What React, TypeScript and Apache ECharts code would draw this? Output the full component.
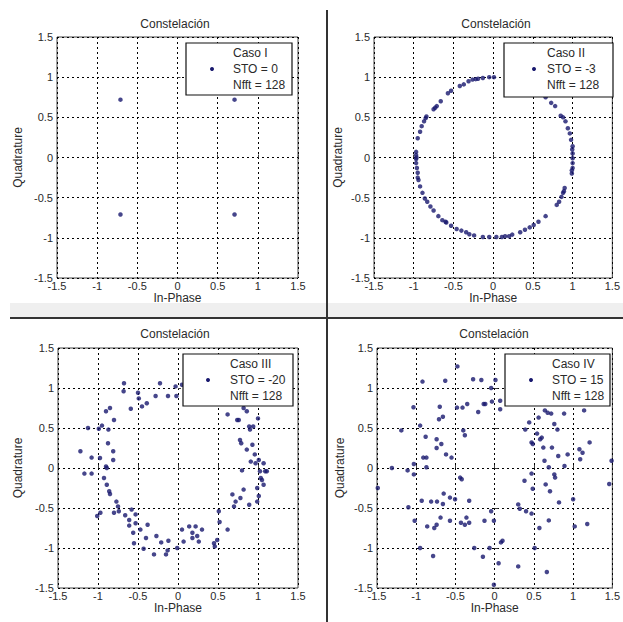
import React, { useEffect, useRef } from "react";
import * as echarts from "echarts";

// ---------- data ----------
const ticks = ["-1.5", "-1", "-0.5", "0", "0.5", "1", "1.5"];
const titleText = "Constelación";
const xName = "In-Phase";
const yName = "Quadrature";

const caseNames = ["Caso I", "Caso II", "Caso III", "Caso IV"];
const stoLabels = ["STO = 0", "STO = -3", "STO = -20", "STO = 15"];
const nfftLabel = "Nfft = 128";

const caseI: number[][] = [
  [-0.71, 0.72], [0.71, 0.72], [-0.71, -0.71], [0.71, -0.71],
];

const caseII: number[][] = [
  [0.01, 1.0], [-0.05, 1.0], [-0.13, 0.99], [-0.19, 0.98], [-0.26, 0.97], [-0.31, 0.95],
  [-0.37, 0.91], [-0.42, 0.89], [-0.53, 0.83], [-0.57, 0.8], [-0.66, 0.7], [-0.71, 0.64],
  [-0.75, 0.6], [-0.84, 0.51], [-0.87, 0.45], [-0.9, 0.39], [-0.92, 0.32], [-0.95, 0.24],
  [-0.97, 0.07], [-0.97, 0.03], [-0.97, -0.02], [-0.97, -0.07], [-0.96, -0.13], [-0.95, -0.19],
  [-0.94, -0.28], [-0.92, -0.36], [-0.89, -0.44], [-0.86, -0.51], [-0.83, -0.55], [-0.79, -0.61],
  [-0.75, -0.66], [-0.69, -0.73], [-0.64, -0.78], [-0.59, -0.81], [-0.53, -0.85], [-0.46, -0.89],
  [-0.4, -0.91], [-0.34, -0.93], [-0.24, -0.97], [-0.13, -0.99], [-0.05, -0.99], [0.04, -0.99],
  [0.11, -0.99], [0.15, -0.98], [0.24, -0.96], [0.34, -0.93], [0.4, -0.9], [0.46, -0.87],
  [0.51, -0.84], [0.57, -0.8], [0.66, -0.73], [0.8, -0.59], [0.83, -0.55], [0.86, -0.49],
  [0.88, -0.44], [0.9, -0.38], [0.99, -0.2], [1.0, -0.13], [1.0, -0.07], [1.0, -0.01],
  [1.0, 0.05], [1.0, 0.14], [0.98, 0.22], [0.965, 0.3], [0.94, 0.365], [0.91, 0.45],
  [0.88, 0.5], [0.85, 0.52], [0.78, 0.64], [0.73, 0.68], [0.66, 0.75], [0.63, 0.78],
  [-0.85, 0.49], [-0.73, 0.62], [-0.22, 0.975], [-0.6, -0.8], [-0.3, -0.955], [0.2, -0.98],
  [0.89, -0.42], [0.99, -0.16], [0.995, 0.1], [-0.965, 0.0], [-0.95, -0.25],
];

const caseIII: number[][] = [
  [-1.22, 0.21], [-1.125, 0.5], [-1.17, -0.07], [-1.08, 0.13], [-1.08, -0.07], [-0.99, 0.49],
  [-0.95, 0.53], [-0.975, 0.125], [-1.01, -0.6], [-0.97, -0.56], [-0.9, 0.71], [-0.85, 0.75],
  [-0.87, 0.48], [-0.875, 0.31], [-0.9, 0.02], [-0.89, 0.0], [-0.925, -0.125], [-0.89, -0.21],
  [-0.86, -0.29], [-0.85, -0.325], [-0.8, 0.6], [-0.81, 0.21], [-0.81, 0.1], [-0.77, -0.42],
  [-0.75, -0.48], [-0.8, -0.56], [-0.74, -0.54], [-0.675, 1.06], [-0.68, 0.96], [-0.66, -0.59],
  [-0.61, -0.65], [-0.61, -0.72], [-0.59, 0.74], [-0.58, -0.52], [-0.56, -0.81], [-0.55, -0.94],
  [-0.53, -0.58], [-0.53, -0.69], [-0.5, 0.94], [-0.49, 0.87], [-0.47, -0.77], [-0.45, 0.77],
  [-0.43, -1.01], [-0.4, -0.875], [-0.38, -0.71], [-0.39, 0.81], [-0.28, 0.9], [-0.27, -0.85],
  [-0.225, 1.06], [-0.21, -0.93], [-0.3, -1.08], [-0.15, -1.08], [-0.13, -1.03], [-0.12, -0.91],
  [-0.125, 0.9], [-0.03, 1.02], [-0.02, 0.9], [-0.01, -1.0], [0.05, 1.04], [0.05, -0.77],
  [0.07, -0.92], [0.14, -0.73], [0.18, -0.81], [0.18, -0.875], [0.22, -0.73], [0.24, -0.85],
  [0.26, -0.92], [0.3, -0.77], [0.45, -0.94], [0.46, -0.98], [0.49, -0.9], [0.51, -0.54],
  [0.52, -0.675], [0.62, 0.67], [0.62, -0.77], [0.68, -0.33], [0.7, -0.48], [0.72, -0.42],
  [0.74, 0.6], [0.76, 0.6], [0.78, -0.375], [0.775, 0.35], [0.79, 0.31], [0.8, -0.03],
  [0.82, 0.75], [0.82, -0.27], [0.86, 0.23], [0.86, 0.71], [0.89, 0.52], [0.89, -0.46],
  [0.9, 0.48], [0.91, 0.08], [0.93, 0.29], [0.94, 0.52], [0.96, 0.17], [0.97, 0.06],
  [0.99, -0.25], [0.99, -0.42], [1.0, 0.62], [1.01, 0.1], [1.01, -0.35], [1.025, -0.04],
  [1.05, -0.15], [1.035, -0.125], [1.07, 0.06], [1.09, -0.04], [1.07, -0.21], [1.11, -0.04],
];

const caseIV: number[][] = [
  [-1.49, -0.25], [-1.31, 0.0], [-1.19, 0.47], [-1.11, -0.03], [-1.1, -0.49], [-1.035, 0.76],
  [-1.03, 0.05], [-1.03, -0.08], [-1.02, -0.66], [-0.95, 0.53], [-0.95, -1.0], [-0.93, -0.41],
  [-0.92, 1.08], [-0.91, 0.13], [-0.88, 0.39], [-0.87, 0.13], [-0.87, 0.01], [-0.86, -0.73],
  [-0.81, -0.42], [-0.785, -1.1], [-0.77, -0.75], [-0.74, -0.71], [-0.74, 0.36], [-0.74, 0.25],
  [-0.735, -0.42], [-0.71, 0.61], [-0.7, 0.765], [-0.69, -0.62], [-0.68, 0.3], [-0.66, -0.45],
  [-0.66, 0.64], [-0.65, -0.32], [-0.63, 1.09], [-0.62, 0.17], [-0.57, -0.37], [-0.57, -0.66],
  [-0.55, 0.13], [-0.505, -0.39], [-0.48, 0.755], [-0.475, 1.27], [-0.44, -0.12], [-0.42, -0.14],
  [-0.43, -0.685], [-0.41, 0.755], [-0.4, 0.47], [-0.38, 0.41], [-0.38, -0.71], [-0.35, 0.8],
  [-0.36, -0.62], [-0.325, -0.41], [-0.325, -0.685], [-0.275, 1.11], [-0.26, -1.0], [-0.21, 0.7],
  [-0.17, 1.1], [-0.15, -1.11], [-0.13, -0.66], [-0.14, 0.8], [-0.12, 0.8], [-0.065, -1.0],
  [-0.045, -0.54], [-0.045, 1.0], [-0.035, 0.83], [-0.01, -0.66], [0.01, 1.1], [-0.01, -1.46],
  [0.05, -1.19], [0.07, 0.84], [0.07, 0.735], [0.08, -0.93], [0.1, -0.91], [0.3, -1.23],
  [0.3, -0.455], [0.32, -0.51], [0.38, -0.16], [0.39, 0.48], [0.4, -0.54], [0.44, 0.57],
  [0.47, -0.07], [0.47, -0.57], [0.485, -0.26], [0.51, -1.0], [0.47, 0.32], [0.485, 0.3],
  [0.54, 0.43], [0.56, 0.63], [0.57, -0.75], [0.58, 0.36], [0.6, 0.38], [0.62, 0.255],
  [0.635, 0.09], [0.64, 0.72], [0.65, -0.205], [0.665, -1.3], [0.675, 0.69], [0.69, -0.655],
  [0.69, 0.01], [0.705, -0.29], [0.72, 0.68], [0.73, 0.255], [0.76, 0.55], [0.76, -0.08],
  [0.77, -0.12], [0.8, 0.48], [0.81, 0.15], [0.82, -0.43], [0.885, 0.68], [0.89, 0.025],
  [0.93, 0.17], [1.0, -0.39], [1.02, -0.73], [1.08, 0.235], [1.09, 0.11], [1.12, 0.19],
  [1.14, 0.72], [1.18, -0.7], [1.21, 0.32], [1.46, -0.2], [1.49, 0.09],
];

const seriesData = [caseI, caseII, caseIII, caseIV];

// ---------- layout ----------
const layouts = [
  { grid: { left: 57, top: 37, width: 241, height: 241 }, tx: 175, ty: 24, yNameX: 18, leg: { x: 186, y: 43, w: 106, h: 52, mx: 212, tx: 233 } },
  { grid: { left: 374, top: 37, width: 242, height: 241 }, tx: 496, ty: 24, yNameX: 338, leg: { x: 504, y: 43, w: 109, h: 54, mx: 534, tx: 547 } },
  { grid: { left: 58, top: 348, width: 240, height: 240 }, tx: 175, ty: 334, yNameX: 18, leg: { x: 183, y: 354, w: 110, h: 52, mx: 208, tx: 230 } },
  { grid: { left: 377, top: 348, width: 239, height: 240 }, tx: 494, ty: 334, yNameX: 340, leg: { x: 505, y: 354, w: 105, h: 52, mx: 531, tx: 552 } },
];

const FONT = "'Liberation Sans', Arial, sans-serif";
const TXT = "#2a2a2a";
const MARK = "#18186e";

export default function App() {
  const ref = useRef<HTMLDivElement>(null);
  useEffect(() => {
    if (!ref.current) return;
    const chart = echarts.init(ref.current, undefined, { renderer: "svg" });
    const axisCommon = (idx: number) => ({
      gridIndex: idx,
      type: "value" as const,
      min: -1.5,
      max: 1.5,
      interval: 0.5,
      axisLine: { show: false },
      axisTick: { show: true, inside: true, length: 3, lineStyle: { color: "#444" } },
      splitLine: { show: true, lineStyle: { color: "#000", type: [2, 3], width: 1 } },
      axisLabel: {
        color: TXT,
        fontFamily: FONT,
        fontSize: 11,
        formatter: (v: number) => ticks[Math.round((v + 1.5) / 0.5)] ?? String(v),
      },
    });

    const graphics: any[] = [
      { type: "rect", shape: { x: 10, y: 303, width: 613, height: 14 }, style: { fill: "#efefef" }, z: -1 },
      { type: "line", shape: { x1: 10, y1: 318, x2: 623, y2: 318 }, style: { stroke: "#333", lineWidth: 2 } },
      { type: "line", shape: { x1: 327, y1: 10, x2: 327, y2: 622 }, style: { stroke: "#333", lineWidth: 2 } },
    ];
    layouts.forEach((l, i) => {
      graphics.push({
        type: "text",
        x: l.tx,
        y: l.ty,
        style: { text: titleText, fill: TXT, font: `12px ${FONT}`, align: "center", verticalAlign: "middle" },
      });
      const g = l.leg;
      graphics.push({
        type: "rect",
        shape: { x: g.x, y: g.y, width: g.w, height: g.h },
        style: { fill: "#fff", stroke: "#111", lineWidth: 1.2 },
        z: 10,
      });
      graphics.push({
        type: "circle",
        shape: { cx: g.mx, cy: g.y + 26, r: 2 },
        style: { fill: MARK },
        z: 11,
      });
      [caseNames[i], stoLabels[i], nfftLabel].forEach((t, k) => {
        graphics.push({
          type: "text",
          x: g.tx,
          y: g.y + 10 + k * 16,
          style: { text: t, fill: TXT, font: `12px ${FONT}`, align: "left", verticalAlign: "middle" },
          z: 11,
        });
      });
    });

    chart.setOption({
      animation: false,
      backgroundColor: "#fff",
      grid: layouts.map((l) => ({
        ...l.grid,
        show: true,
        borderColor: "#444",
        borderWidth: 1,
        backgroundColor: "#fff",
      })),
      xAxis: layouts.map((l, i) => ({
        ...axisCommon(i),
        position: "bottom",
        name: xName,
        nameLocation: "middle",
        nameGap: 11,
        nameTextStyle: { color: TXT, fontFamily: FONT, fontSize: 12 },
        axisLabel: { ...axisCommon(i).axisLabel, margin: 2 },
      })),
      yAxis: layouts.map((l, i) => ({
        ...axisCommon(i),
        position: "left",
        name: yName,
        nameLocation: "middle",
        nameGap: l.grid.left - l.yNameX - 6,
        nameTextStyle: { color: TXT, fontFamily: FONT, fontSize: 12 },
        axisLabel: { ...axisCommon(i).axisLabel, margin: 4 },
      })),
      series: seriesData.map((d, i) => ({
        type: "scatter",
        xAxisIndex: i,
        yAxisIndex: i,
        data: d,
        symbol: "circle",
        symbolSize: 4.5,
        itemStyle: { color: MARK },
        z: 5,
      })),
      graphic: graphics,
    });
    return () => chart.dispose();
  }, []);
  return <div ref={ref} style={{ position: "fixed", left: 0, top: 0, width: 623, height: 622 }} />;
}
